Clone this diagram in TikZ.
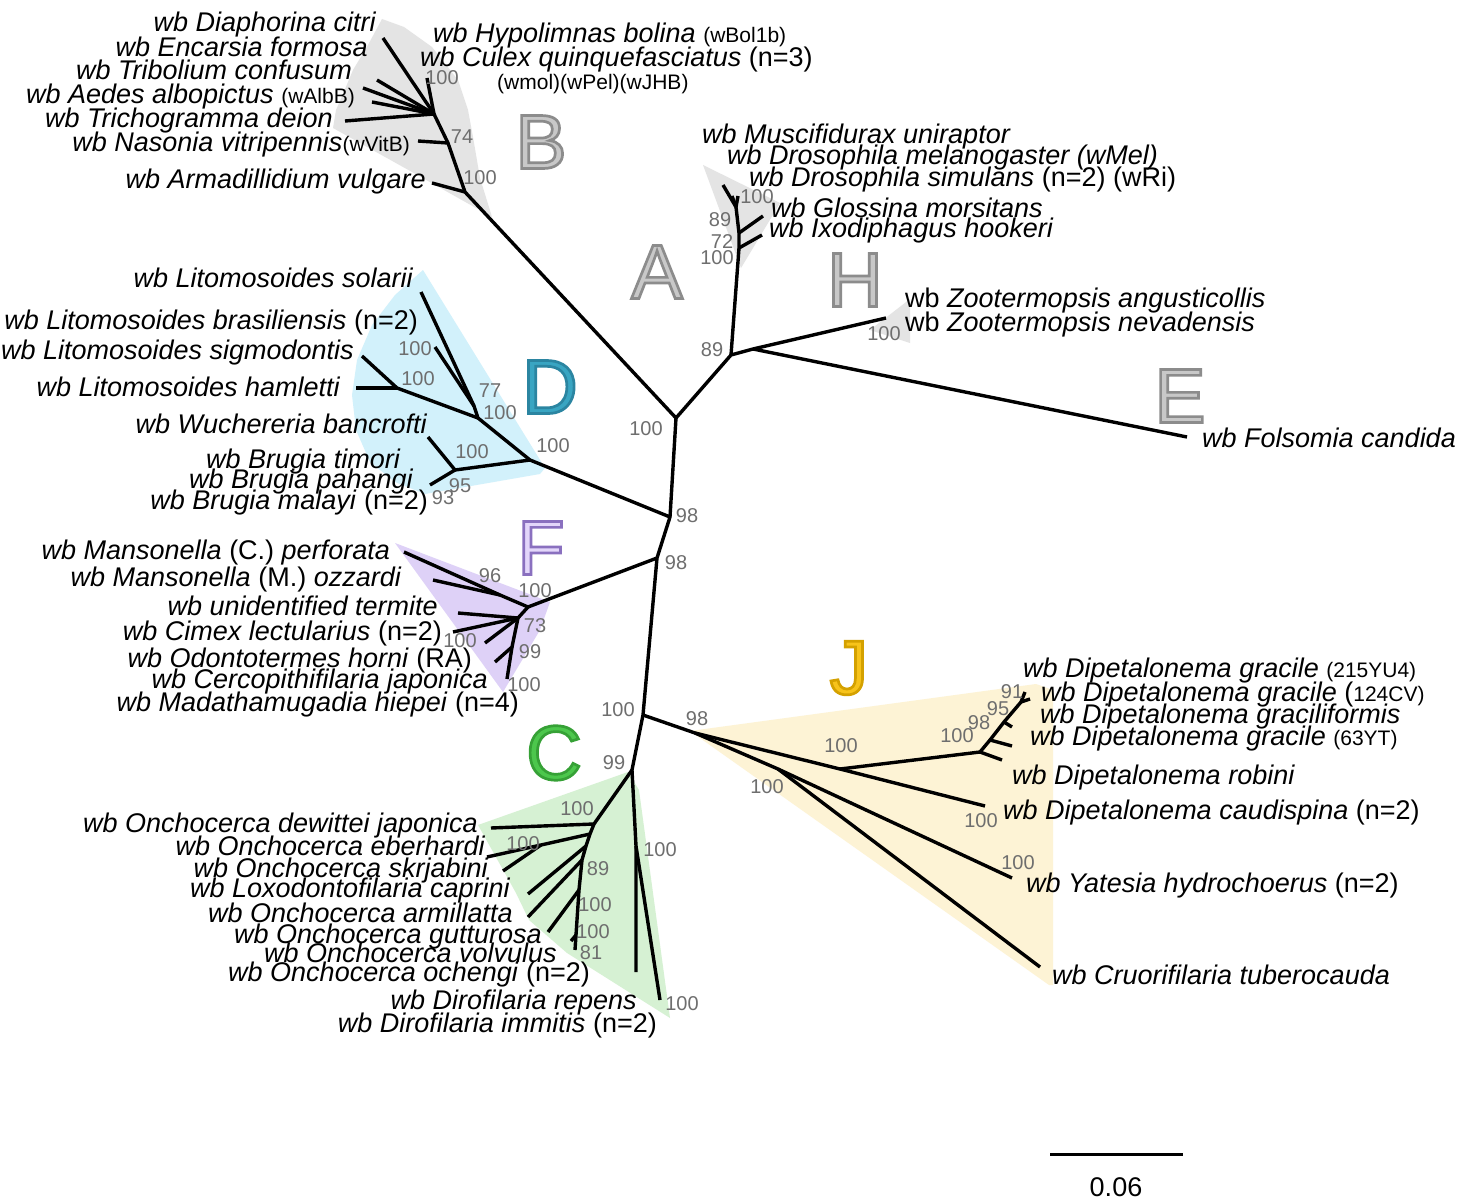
\documentclass[tikz,border=0pt]{standalone}
\usepackage{fontspec}
\setmainfont{Liberation Sans}
\newfontfamily\bigfont[FakeBold=3.5]{Liberation Sans}
\definecolor{shGray}{HTML}{E4E4E4}
\definecolor{shBlue}{HTML}{D2F1FB}
\definecolor{shLav}{HTML}{DED1F7}
\definecolor{shGreen}{HTML}{D6F1D3}
\definecolor{shYel}{HTML}{FDF3D5}
\definecolor{bsGray}{HTML}{6E6E6E}
\definecolor{lGrayF}{HTML}{C8C8C8}
\definecolor{lBlueF}{HTML}{39A5C2}
\definecolor{lLavF}{HTML}{E3D6FA}
\definecolor{lGreenF}{HTML}{4CC74C}
\definecolor{lYelF}{HTML}{F7C31A}
\newcommand{\smtxt}[1]{{\upshape\fontsize{21}{21}\selectfont #1}}
% name, position, letter, fill colour, outline colour (rgb numbers)
\newcommand{\cladeletter}[5]{%
  \node[bigl, text=#4] (#1) at (#2) {\special{pdf:literal direct #5 RG}#3};}
\tikzset{
  br/.style={line width=3.4pt, black, line join=round},
  lab/.style={inner sep=0pt, font=\fontsize{27}{27}\selectfont\itshape},
  labR/.style={lab, anchor=base east, yshift=-9.5pt},
  labL/.style={lab, anchor=base west, yshift=-9.5pt},
  bs/.style={inner sep=0pt, anchor=base, yshift=-7pt, font=\fontsize{20}{20}\selectfont, text=bsGray},
  bigl/.style={inner sep=0pt, anchor=center, font=\fontsize{77}{77}\selectfont\bigfont},
}
\begin{document}
\begin{tikzpicture}[x=1pt,y={(0pt,-1pt)}]
\useasboundingbox (0,0) rectangle (1470,1201);
\fill[white] (0,0) rectangle (1470,1201);
% ---------- shaded clade areas ----------
\fill[shGray] (382,19) -- (404,27) -- (432,47) -- (458,80) -- (468,110) -- (473,137) -- (480,178) -- (492,217) -- (412,172) -- (333,128) -- (336,110) -- (343,94) -- (353,70) -- (368,45) -- cycle;
\fill[shGray] (703,165) -- (780,203) -- (741,268) -- cycle;
\fill[shGray] (870,330) -- (910,299) -- (910,343) -- cycle;
\fill[shBlue] (423,270) -- (545,468) -- (540,474) -- (425,494) -- (395,482) -- (370,462) -- (356,430) -- (352,395) -- (357,360) -- (372,325) -- (395,295) -- cycle;
\fill[shLav] (395,543) -- (550,602) -- (540,630) -- (503,692) -- cycle;
\fill[shGreen] (628,772) -- (478,825) -- (516,893) -- (529,920) -- (567,953) -- (670,1018) -- (639,790) -- cycle;
\fill[shYel] (690,731) -- (1036,684) -- (1053,690) -- (1053,985) -- (1049,985) -- cycle;
% ---------- clade letters ----------
\coordinate (pB) at (541,142);
\coordinate (pA) at (657,272);
\coordinate (pH) at (855,280);
\coordinate (pE) at (1180,396);
\coordinate (pD) at (550,387);
\coordinate (pF) at (541,548);
\coordinate (pC) at (554,753);
\coordinate (pJ) at (849,668);
\cladeletter{LB}{pB}{B}{lGrayF}{0.55 0.55 0.55}
\cladeletter{LA}{pA}{A}{lGrayF}{0.55 0.55 0.55}
\cladeletter{LH}{pH}{H}{lGrayF}{0.55 0.55 0.55}
\cladeletter{LE}{pE}{E}{lGrayF}{0.55 0.55 0.55}
\cladeletter{LD}{pD}{D}{lBlueF}{0.17 0.52 0.63}
\cladeletter{LF}{pF}{F}{lLavF}{0.54 0.44 0.75}
\cladeletter{LC}{pC}{C}{lGreenF}{0.21 0.63 0.21}
\cladeletter{LJ}{pJ}{J}{lYelF}{0.83 0.63 0.0}
% ---------- tree coordinates ----------
\coordinate (r1) at (676,418);
\coordinate (r2) at (731,355);
\coordinate (r3) at (753,349);
\coordinate (hT) at (886,318);
\coordinate (eT) at (1187,437);
\coordinate (r4) at (670,517);
\coordinate (r5) at (657,558);
\coordinate (r6) at (643,715);
\coordinate (r7) at (632,770);
% A
\coordinate (aI) at (739,248);
\coordinate (aG) at (739,233);
\coordinate (aD) at (736,207);
\coordinate (tMus) at (723,185);
\coordinate (tDmel) at (732,196);
\coordinate (tDsim) at (738,196);
\coordinate (tGlo) at (763,216);
\coordinate (tIxo) at (762,235);
% B
\coordinate (bR) at (465,192);
\coordinate (b74) at (448,143);
\coordinate (bC) at (434,114);
\coordinate (tArm) at (432,183);
\coordinate (tNas) at (418,141);
\coordinate (tTri) at (345,121);
\coordinate (tAed) at (372,102);
\coordinate (tTrb) at (363,88);
\coordinate (tEnc) at (377,80);
\coordinate (tDia) at (383,38);
\coordinate (tHyp) at (427,78);
% D
\coordinate (dR) at (530,460);
\coordinate (dL) at (478,418);
\coordinate (d77) at (474,406);
\coordinate (tSol) at (421,292);
\coordinate (tBra) at (435,347);
\coordinate (dSH) at (397,388);
\coordinate (tSig) at (362,356);
\coordinate (tHam) at (356,388);
\coordinate (dB) at (455,470);
\coordinate (tWuc) at (428,437);
\coordinate (tBmal) at (430,485);
% F
\coordinate (fR) at (528,607);
\coordinate (f96) at (500,595);
\coordinate (tPer) at (404,552);
\coordinate (tOzz) at (433,580);
\coordinate (f73) at (518,618);
\coordinate (tTer) at (458,613);
\coordinate (tCim) at (453,632);
\coordinate (tOdo) at (485,643);
\coordinate (f99) at (512,647);
\coordinate (tCer) at (495,662);
\coordinate (tMad) at (507,679);
% J
\coordinate (j98) at (695,733);
\coordinate (jA) at (840,769);
\coordinate (tCau) at (985,806);
\coordinate (dN) at (980,752);
\coordinate (tRob) at (1002,760);
\coordinate (d98) at (990,740);
\coordinate (t63) at (1012,746);
\coordinate (d95) at (1004,722);
\coordinate (tGrf) at (1012,727);
\coordinate (d91) at (1021,702);
\coordinate (t215) at (1025,692);
\coordinate (t124) at (1030,699);
\coordinate (jB) at (778,769);
\coordinate (tYat) at (1012,878);
\coordinate (tCru) at (1040,967);
% C
\coordinate (c100) at (594,824);
\coordinate (tDew) at (491,828);
\coordinate (cb1) at (590,834);
\coordinate (es) at (541,845);
\coordinate (tEbe) at (487,857);
\coordinate (tSkr) at (503,871);
\coordinate (cb2) at (586,846);
\coordinate (tLox) at (528,894);
\coordinate (cb3) at (582,860);
\coordinate (tArmi) at (528,917);
\coordinate (cb4) at (579,890);
\coordinate (tGut) at (548,932);
\coordinate (cb5) at (576,935);
\coordinate (tVol) at (571,941);
\coordinate (cb6) at (575,950);
\coordinate (cDs) at (636,846);
\coordinate (tRep) at (636,972);
\coordinate (tImm) at (660,1000);
% ---------- branches ----------
\draw[br] (r1) -- (r2) -- (r3) -- (hT);
\draw[br] (r3) -- (eT);
\draw[br] (r2) -- (aI) -- (aG) -- (aD) -- (tMus);
\draw[br] (aD) -- (tDmel);
\draw[br] (aD) -- (tDsim);
\draw[br] (aG) -- (tGlo);
\draw[br] (aI) -- (tIxo);
\draw[br] (r1) -- (bR) -- (b74) -- (bC) -- (tDia);
\draw[br] (bR) -- (tArm);
\draw[br] (b74) -- (tNas);
\draw[br] (bC) -- (tTri);
\draw[br] (bC) -- (tAed);
\draw[br] (bC) -- (tTrb);
\draw[br] (bC) -- (tEnc);
\draw[br] (bC) -- (tHyp);
\draw[br] (r1) -- (r4) -- (r5) -- (r6) -- (r7);
\draw[br] (r4) -- (dR) -- (dL) -- (d77) -- (tSol);
\draw[br] (d77) -- (tBra);
\draw[br] (dL) -- (dSH) -- (tSig);
\draw[br] (dSH) -- (tHam);
\draw[br] (dR) -- (dB) -- (tWuc);
\draw[br] (dB) -- (tBmal);
\draw[br] (r5) -- (fR) -- (f96) -- (tPer);
\draw[br] (f96) -- (tOzz);
\draw[br] (fR) -- (f73) -- (tTer);
\draw[br] (f73) -- (tCim);
\draw[br] (f73) -- (tOdo);
\draw[br] (f73) -- (f99) -- (tCer);
\draw[br] (f99) -- (tMad);
\draw[br] (r6) -- (j98) -- (jA) -- (tCau);
\draw[br] (jA) -- (dN) -- (tRob);
\draw[br] (dN) -- (d98) -- (t63);
\draw[br] (d98) -- (d95) -- (tGrf);
\draw[br] (d95) -- (d91) -- (t215);
\draw[br] (d91) -- (t124);
\draw[br] (j98) -- (jB) -- (tYat);
\draw[br] (jB) -- (tCru);
\draw[br] (r7) -- (c100) -- (tDew);
\draw[br] (c100) -- (cb1) -- (cb2) -- (cb3) -- (cb4) -- (cb5) -- (cb6);
\draw[br] (cb1) -- (es) -- (tEbe);
\draw[br] (es) -- (tSkr);
\draw[br] (cb2) -- (tLox);
\draw[br] (cb3) -- (tArmi);
\draw[br] (cb4) -- (tGut);
\draw[br] (cb5) -- (tVol);
\draw[br] (r7) -- (cDs) -- (tRep);
\draw[br] (cDs) -- (tImm);
% ---------- taxon labels ----------
% B
\node[labR] (nDia) at (376,22) {wb Diaphorina citri};
\node[labR] (nEnc) at (368,47) {wb Encarsia formosa};
\node[labR] (nTrb) at (352,70) {wb Tribolium confusum};
\node[labR] (nAed) at (355,94) {wb Aedes albopictus \smtxt{(wAlbB)}};
\node[labR] (nTri) at (333,118) {wb Trichogramma deion};
\node[labR] (nNas) at (410,142) {wb Nasonia vitripennis\smtxt{(wVitB)}};
\node[labR] (nArm) at (426,179) {wb Armadillidium vulgare};
\node[labL] (nHyp) at (433,33) {wb Hypolimnas bolina \smtxt{(wBol1b)}};
\node[labL] (nCul) at (420,57) {wb Culex quinquefasciatus \textup{(n=3)}};
\node[labL] (nCul2) at (497,80) {\smtxt{(wmol)(wPel)(wJHB)}};
% A, H, E
\node[labL] (nMus) at (702,134) {wb Muscifidurax uniraptor};
\node[labL] (nDmel) at (727,155) {wb Drosophila melanogaster (wMel)};
\node[labL] (nDsim) at (749,177) {wb Drosophila simulans \textup{(n=2) (wRi)}};
\node[labL] (nGlo) at (771,208) {wb Glossina morsitans};
\node[labL] (nIxo) at (769,228) {wb Ixodiphagus hookeri};
\node[labL] (nZoa) at (905,298) {\textup{wb} Zootermopsis angusticollis};
\node[labL] (nZon) at (905,322) {\textup{wb} Zootermopsis nevadensis};
\node[labL] (nFol) at (1202,438) {wb Folsomia candida};
% D
\node[labR] (nSol) at (413,278) {wb Litomosoides solarii};
\node[labR] (nBra) at (418,320) {wb Litomosoides brasiliensis \textup{(n=2)}};
\node[labR] (nSig) at (354,350) {wb Litomosoides sigmodontis};
\node[labR] (nHam) at (340,387) {wb Litomosoides hamletti};
\node[labR] (nWuc) at (427,424) {wb Wuchereria bancrofti};
\node[labR] (nBti) at (400,459) {wb Brugia timori};
\node[labR] (nBpa) at (413,479) {wb Brugia pahangi};
\node[labR] (nBma) at (428,500) {wb Brugia malayi \textup{(n=2)}};
% F
\node[labR] (nPer) at (390,550) {wb Mansonella \textup{(C.)} perforata};
\node[labR] (nOzz) at (401,577) {wb Mansonella \textup{(M.)} ozzardi};
\node[labR] (nTer) at (438,606) {wb unidentified termite};
\node[labR] (nCim) at (442,631) {wb Cimex lectularius \textup{(n=2)}};
\node[labR] (nOdo) at (472,658) {wb Odontotermes horni \textup{(RA)}};
\node[labR] (nCer) at (488,679) {wb Cercopithifilaria japonica};
\node[labR] (nMad) at (519,702) {wb Madathamugadia hiepei \textup{(n=4)}};
% J
\node[labL] (n215) at (1023,668) {wb Dipetalonema gracile \smtxt{(215YU4)}};
\node[labL] (n124) at (1041,692) {wb Dipetalonema gracile \textup{(}\smtxt{124CV)}};
\node[labL] (nGrf) at (1040,714) {wb Dipetalonema graciliformis};
\node[labL] (n63) at (1030,736) {wb Dipetalonema gracile \smtxt{(63YT)}};
\node[labL] (nRob) at (1012,775) {wb Dipetalonema robini};
\node[labL] (nCau) at (1003,810) {wb Dipetalonema caudispina \textup{(n=2)}};
\node[labL] (nYat) at (1026,883) {wb Yatesia hydrochoerus \textup{(n=2)}};
\node[labL] (nCru) at (1052,975) {wb Cruorifilaria tuberocauda};
% C
\node[labR] (nDew) at (478,823) {wb Onchocerca dewittei japonica};
\node[labR] (nEbe) at (485,846) {wb Onchocerca eberhardi};
\node[labR] (nSkr) at (488,868) {wb Onchocerca skrjabini};
\node[labR] (nLox) at (510,888) {wb Loxodontofilaria caprini};
\node[labR] (nArmi) at (513,913) {wb Onchocerca armillatta};
\node[labR] (nGut) at (542,934) {wb Onchocerca gutturosa};
\node[labR] (nVol) at (557,953) {wb Onchocerca volvulus};
\node[labR] (nOch) at (590,972) {wb Onchocerca ochengi \textup{(n=2)}};
\node[labR] (nRep) at (637,1000) {wb Dirofilaria repens};
\node[labR] (nImm) at (657,1023) {wb Dirofilaria immitis \textup{(n=2)}};
% ---------- bootstrap values ----------
\node[bs] (s1) at (442,78) {100};
\node[bs] (s2) at (462,137) {74};
\node[bs] (s3) at (480,178) {100};
\node[bs] (s4) at (757,197) {100};
\node[bs] (s5) at (720,219) {89};
\node[bs] (s6) at (722,241) {72};
\node[bs] (s7) at (717,258) {100};
\node[bs] (s8) at (712,349) {89};
\node[bs] (s9) at (884,333) {100};
\node[bs] (s10) at (646,428) {100};
\node[bs] (s11) at (415,348) {100};
\node[bs] (s12) at (418,378) {100};
\node[bs] (s13) at (490,390) {77};
\node[bs] (s14) at (500,412) {100};
\node[bs] (s15) at (553,445) {100};
\node[bs] (s16) at (472,451) {100};
\node[bs] (s17) at (460,485) {95};
\node[bs] (s18) at (443,497) {93};
\node[bs] (s19) at (687,515) {98};
\node[bs] (s20) at (676,562) {98};
\node[bs] (s21) at (490,575) {96};
\node[bs] (s22) at (535,590) {100};
\node[bs] (s23) at (535,625) {73};
\node[bs] (s24) at (460,640) {100};
\node[bs] (s25) at (530,651) {99};
\node[bs] (s26) at (524,684) {100};
\node[bs] (s27) at (618,709) {100};
\node[bs] (s28) at (697,718) {98};
\node[bs] (s29) at (614,762) {99};
\node[bs] (s30) at (841,745) {100};
\node[bs] (s31) at (767,786) {100};
\node[bs] (s32) at (957,735) {100};
\node[bs] (s33) at (979,722) {98};
\node[bs] (s34) at (998,708) {95};
\node[bs] (s35) at (1012,691) {91};
\node[bs] (s36) at (981,820) {100};
\node[bs] (s37) at (1018,862) {100};
\node[bs] (s38) at (577,808) {100};
\node[bs] (s39) at (523,843) {100};
\node[bs] (s40) at (598,868) {89};
\node[bs] (s41) at (595,904) {100};
\node[bs] (s42) at (593,931) {100};
\node[bs] (s43) at (591,952) {81};
\node[bs] (s44) at (660,849) {100};
\node[bs] (s45) at (682,1003) {100};
% ---------- scale bar ----------
\coordinate (sb1) at (1050,1154);
\coordinate (sb2) at (1183,1154);
\draw[line width=3pt] (sb1) -- (sb2);
\node[inner sep=0pt, anchor=base, yshift=-9.5pt, font=\fontsize{27}{27}\selectfont] (sbl) at (1116,1187) {0.06};
\end{tikzpicture}
\end{document}
